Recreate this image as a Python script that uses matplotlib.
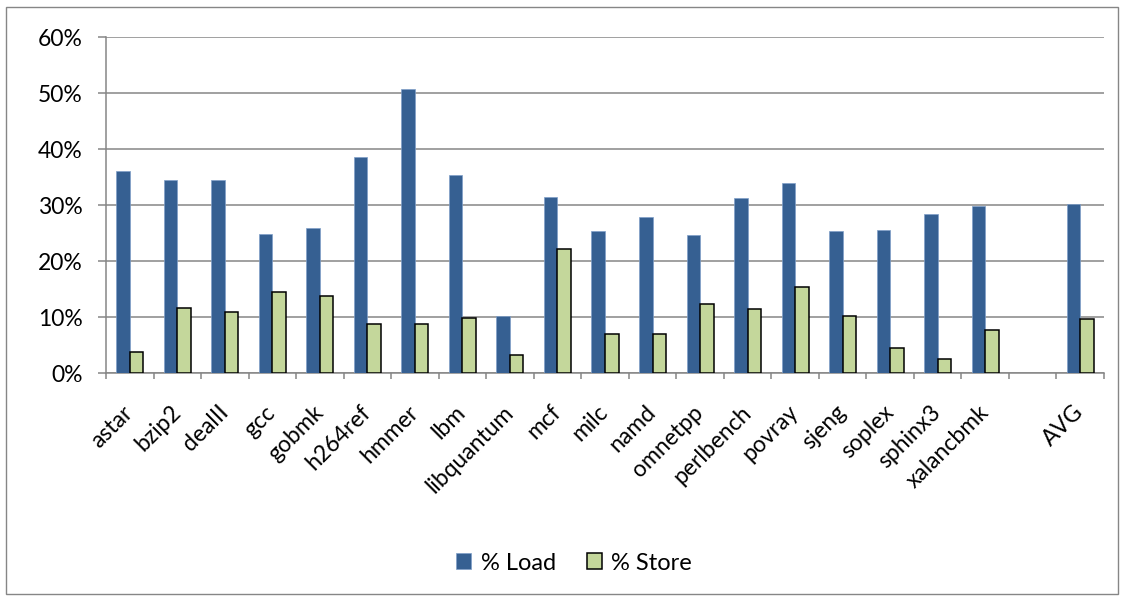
import matplotlib
matplotlib.use("Agg")
import matplotlib.pyplot as plt
from matplotlib.patches import Rectangle
from matplotlib.ticker import FixedLocator, PercentFormatter
import numpy as np

plt.rcParams['font.family'] = ['Lato', 'DejaVu Sans']

benchmarks = ["astar", "bzip2", "dealII", "gcc", "gobmk", "h264ref", "hmmer", "lbm",
              "libquantum", "mcf", "milc", "namd", "omnetpp", "perlbench", "povray",
              "sjeng", "soplex", "sphinx3", "xalancbmk", "AVG"]
load_pct = [36.1, 34.4, 34.5, 24.8, 25.9, 38.6, 50.8, 35.3,
            10.2, 31.4, 25.3, 27.9, 24.7, 31.3, 33.9,
            25.3, 25.6, 28.4, 29.9, 30.2]
store_pct = [3.8, 11.6, 10.9, 14.4, 13.8, 8.8, 8.8, 9.9,
             3.3, 22.1, 7.0, 7.0, 12.4, 11.4, 15.3,
             10.2, 4.5, 2.5, 7.7, 9.7]
yticks = [0, 10, 20, 30, 40, 50, 60]

load_color = "#366092"
store_color = "#C4D79B"
grid_color = "#868686"

fig = plt.figure(figsize=(11.25, 6.0), dpi=100)
ax = fig.add_axes([106 / 1125, 1 - 373 / 600, 998 / 1125, 336 / 600])

# one empty slot separates the average from the individual benchmarks
pos = np.arange(len(benchmarks), dtype=float)
pos[-1] += 1
w = 0.285

ax.bar(pos - w / 2, load_pct, width=w, color=load_color, edgecolor="#7F9FC8",
       linewidth=0.5, label="% Load", zorder=3)
ax.bar(pos + w / 2, store_pct, width=w, color=store_color, edgecolor="black",
       linewidth=1.1, label="% Store", zorder=3)

ax.set_xlim(-0.5, pos[-1] + 0.5)
ax.set_ylim(0, 60)
ax.set_yticks(yticks)
ax.yaxis.set_major_formatter(PercentFormatter(decimals=0))
ax.grid(axis="y", color=grid_color, linewidth=1.1, zorder=0)

ax.set_xticks(pos)
ax.set_xticklabels(benchmarks, rotation=45, ha="right", va="center",
                   rotation_mode="anchor")
ax.xaxis.set_minor_locator(FixedLocator(np.arange(-0.5, pos[-1] + 1.0, 1.0)))
ax.tick_params(axis="x", which="major", length=0, pad=26, labelsize=16.5)
ax.tick_params(axis="x", which="minor", length=4, width=1.1, color=grid_color)
ax.tick_params(axis="y", length=6, width=1.1, color=grid_color, labelsize=16.5, pad=11)

for side in ("top", "right"):
    ax.spines[side].set_visible(False)
for side in ("left", "bottom"):
    ax.spines[side].set_color(grid_color)
    ax.spines[side].set_linewidth(1.1)

leg = fig.legend(loc="center", bbox_to_anchor=(574 / 1125, 1 - 563 / 600), ncol=2,
                 frameon=False, fontsize=17, handlelength=0.65, handleheight=0.65,
                 handletextpad=0.4, columnspacing=1.3)

fig.patches.append(Rectangle((6 / 1125, 6 / 600), 1112 / 1125, 587 / 600,
                             transform=fig.transFigure, fill=False,
                             edgecolor=grid_color, linewidth=1.0))

fig.savefig("out.png", dpi=100)
